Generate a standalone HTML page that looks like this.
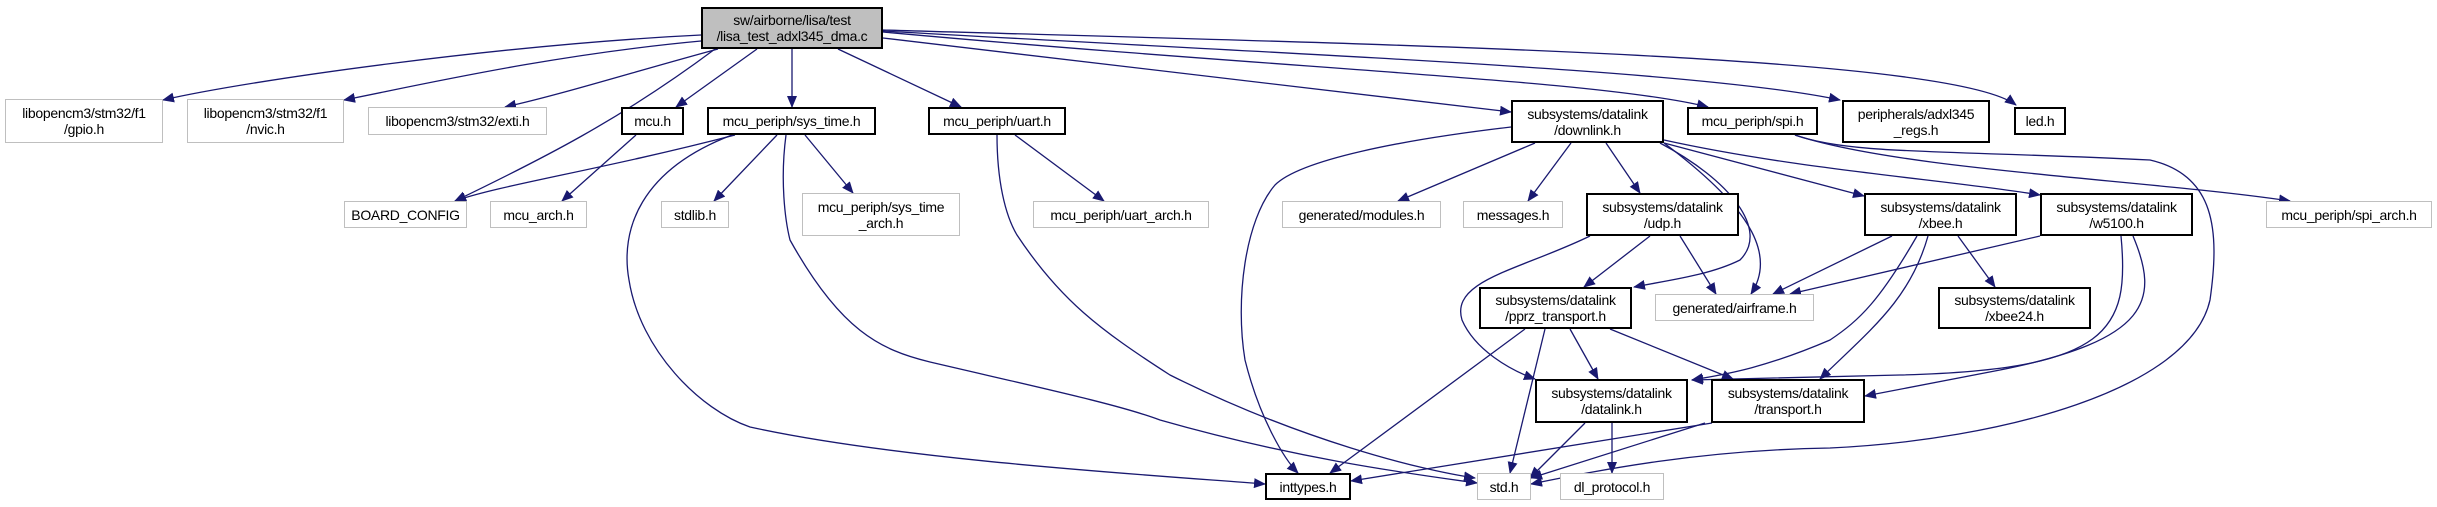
<!DOCTYPE html>
<html><head><meta charset="utf-8"><style>
html,body{margin:0;padding:0;background:#fff;}
body{width:2437px;height:507px;position:relative;overflow:hidden;font-family:"Liberation Sans",sans-serif;}
.n{position:absolute;box-sizing:border-box;border:1px solid #bfbfbf;background:#fff;font-size:14px;line-height:16px;text-align:center;display:flex;align-items:center;justify-content:center;color:#000;letter-spacing:-0.3px;}
.b{border:2px solid #000;}
.g{border:1px solid #bfbfbf;}
.r{background:#bfbfbf;border:2px solid #000;}
svg{position:absolute;left:0;top:0;}
</style></head><body>
<svg width="2437" height="507" viewBox="0 0 2437 507">
<defs><marker id="a" markerWidth="12" markerHeight="10" refX="11" refY="5" orient="auto" markerUnits="userSpaceOnUse"><path d="M0,0 L12,5 L0,10 z" fill="#191970"/></marker></defs>
<g fill="none" stroke="#191970" stroke-width="1.3" marker-end="url(#a)">
<path d="M701,35 C500,45 250,80 163,100"/>
<path d="M701,41 C550,55 420,85 344,100"/>
<path d="M718,49 C640,70 560,95 505,107"/>
<path d="M715,49 C620,120 540,160 455,201"/>
<path d="M757,49 L676,107"/>
<path d="M792,49 L792,107"/>
<path d="M838,49 L961,107"/>
<path d="M883,38 L1511,112"/>
<path d="M883,32 C1300,70 1600,80 1708,107"/>
<path d="M883,31 C1300,55 1700,70 1840,100"/>
<path d="M883,30 C1400,45 1950,55 2016,105"/>
<path d="M636,135 L562,201"/>
<path d="M735,135 C600,170 500,185 455,201"/>
<path d="M777,135 L714,201"/>
<path d="M805,135 L853,193"/>
<path d="M732,135 C640,170 620,230 629,280 C640,350 700,410 750,427 C900,460 1150,475 1265,484"/>
<path d="M786,135 C780,180 785,220 790,240 C840,330 880,350 930,362 C1050,390 1120,405 1160,420 C1300,460 1420,475 1477,483"/>
<path d="M997,135 C997,180 1005,215 1017,235 C1060,300 1100,330 1170,375 C1300,440 1420,470 1475,478"/>
<path d="M1015,135 L1104,201"/>
<path d="M1511,127 C1400,140 1300,160 1275,185 C1245,220 1235,300 1245,360 C1260,420 1285,460 1298,473"/>
<path d="M1535,143 L1398,201"/>
<path d="M1571,143 L1528,201"/>
<path d="M1606,143 L1640,193"/>
<path d="M1660,143 C1730,180 1770,230 1740,260 C1710,275 1670,280 1634,287"/>
<path d="M1664,143 C1740,200 1780,250 1751,294"/>
<path d="M1664,143 L1864,196"/>
<path d="M1664,140 C1800,170 1950,180 2040,195"/>
<path d="M1795,135 C1900,170 2150,180 2290,201"/>
<path d="M1795,135 C1850,155 1950,150 2150,160 C2215,175 2220,230 2210,300 C2190,390 2000,440 1830,448 C1700,450 1600,470 1531,484"/>
<path d="M1650,236 L1584,287"/>
<path d="M1680,236 L1716,294"/>
<path d="M1590,236 C1520,270 1450,280 1462,320 C1475,350 1510,370 1535,379"/>
<path d="M1892,236 L1773,294"/>
<path d="M1958,236 L1995,287"/>
<path d="M1917,236 C1880,300 1860,320 1830,340 C1760,370 1720,375 1692,380"/>
<path d="M1928,236 C1910,300 1870,330 1820,379"/>
<path d="M2040,236 L1790,294"/>
<path d="M2121,236 C2130,330 2110,370 1900,375 L1692,380"/>
<path d="M2133,236 C2160,300 2150,340 2000,370 L1865,396"/>
<path d="M1525,329 L1330,473"/>
<path d="M1545,329 L1510,473"/>
<path d="M1570,329 L1598,379"/>
<path d="M1610,329 L1733,379"/>
<path d="M1585,423 L1530,478"/>
<path d="M1612,423 L1612,473"/>
<path d="M1712,423 L1351,481"/>
<path d="M1705,423 L1531,478"/>
</g>
</svg>
<div class="n r" style="left:701px;top:7px;width:182px;height:42px;">sw/airborne/lisa/test<br>/lisa_test_adxl345_dma.c</div>
<div class="n g" style="left:5px;top:99px;width:158px;height:44px;">libopencm3/stm32/f1<br>/gpio.h</div>
<div class="n g" style="left:187px;top:99px;width:157px;height:44px;">libopencm3/stm32/f1<br>/nvic.h</div>
<div class="n g" style="left:368px;top:107px;width:179px;height:28px;">libopencm3/stm32/exti.h</div>
<div class="n b" style="left:621px;top:107px;width:63px;height:28px;">mcu.h</div>
<div class="n b" style="left:707px;top:107px;width:169px;height:28px;">mcu_periph/sys_time.h</div>
<div class="n b" style="left:928px;top:107px;width:138px;height:28px;">mcu_periph/uart.h</div>
<div class="n b" style="left:1511px;top:100px;width:153px;height:43px;">subsystems/datalink<br>/downlink.h</div>
<div class="n b" style="left:1687px;top:107px;width:131px;height:28px;">mcu_periph/spi.h</div>
<div class="n b" style="left:1842px;top:100px;width:148px;height:43px;">peripherals/adxl345<br>_regs.h</div>
<div class="n b" style="left:2014px;top:107px;width:52px;height:28px;">led.h</div>
<div class="n g" style="left:344px;top:201px;width:123px;height:27px;">BOARD_CONFIG</div>
<div class="n g" style="left:490px;top:201px;width:97px;height:27px;">mcu_arch.h</div>
<div class="n g" style="left:661px;top:201px;width:68px;height:27px;">stdlib.h</div>
<div class="n g" style="left:802px;top:193px;width:158px;height:43px;">mcu_periph/sys_time<br>_arch.h</div>
<div class="n g" style="left:1033px;top:201px;width:176px;height:27px;">mcu_periph/uart_arch.h</div>
<div class="n g" style="left:1282px;top:201px;width:159px;height:27px;">generated/modules.h</div>
<div class="n g" style="left:1463px;top:201px;width:100px;height:27px;">messages.h</div>
<div class="n b" style="left:1586px;top:193px;width:153px;height:43px;">subsystems/datalink<br>/udp.h</div>
<div class="n b" style="left:1864px;top:193px;width:153px;height:43px;">subsystems/datalink<br>/xbee.h</div>
<div class="n b" style="left:2040px;top:193px;width:153px;height:43px;">subsystems/datalink<br>/w5100.h</div>
<div class="n g" style="left:2266px;top:201px;width:166px;height:27px;">mcu_periph/spi_arch.h</div>
<div class="n b" style="left:1479px;top:287px;width:153px;height:42px;">subsystems/datalink<br>/pprz_transport.h</div>
<div class="n g" style="left:1655px;top:294px;width:159px;height:27px;">generated/airframe.h</div>
<div class="n b" style="left:1938px;top:287px;width:153px;height:42px;">subsystems/datalink<br>/xbee24.h</div>
<div class="n b" style="left:1535px;top:379px;width:153px;height:44px;">subsystems/datalink<br>/datalink.h</div>
<div class="n b" style="left:1711px;top:379px;width:154px;height:44px;">subsystems/datalink<br>/transport.h</div>
<div class="n b" style="left:1265px;top:473px;width:86px;height:27px;">inttypes.h</div>
<div class="n g" style="left:1477px;top:473px;width:54px;height:27px;">std.h</div>
<div class="n g" style="left:1560px;top:473px;width:104px;height:27px;">dl_protocol.h</div>
</body></html>
